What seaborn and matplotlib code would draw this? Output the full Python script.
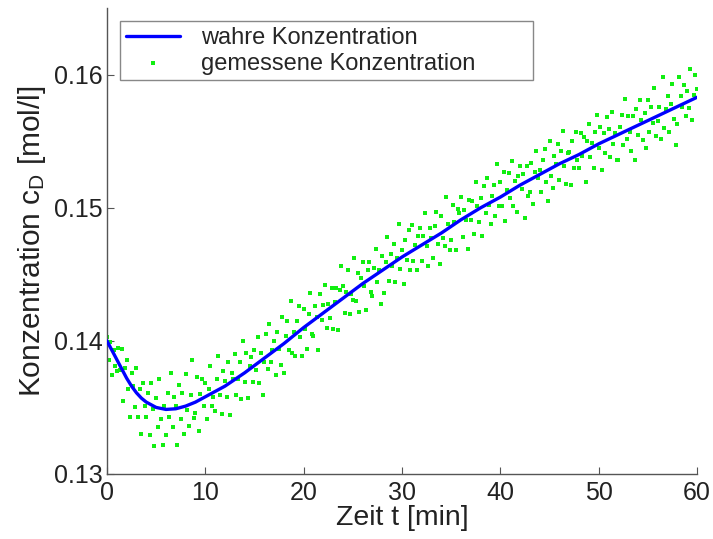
import numpy as np
import pandas as pd
import matplotlib
matplotlib.use("Agg")
import matplotlib.pyplot as plt
import seaborn as sns

# ---- data -------------------------------------------------------------
# true concentration
true_t = [0, 0.5, 1, 1.5, 2, 2.5, 3, 3.5, 4, 5, 6, 7, 8, 9, 10, 12, 14, 16, 18,
          20, 22, 24, 26, 28, 30, 32, 34, 36, 38, 40, 42, 44, 46, 48, 50, 52,
          54, 56, 58, 60]
true_c = [0.1400, 0.1393, 0.1386, 0.1379, 0.1372, 0.1366, 0.1361, 0.1357,
          0.1354, 0.1350, 0.13485, 0.1349, 0.1351, 0.1354, 0.1358, 0.1366,
          0.1376, 0.1387, 0.1398, 0.1410, 0.1421, 0.1432, 0.1443, 0.1453,
          0.1463, 0.1472, 0.1481, 0.1491, 0.1500, 0.1508, 0.1517, 0.1525,
          0.1533, 0.1540, 0.1548, 0.1555, 0.1562, 0.1569, 0.1576, 0.1583]

# measured concentration, one sample every 10 s (6 per minute)
sample_step_min = 1 / 6
meas_c = [
    0.1403, 0.1386, 0.1399, 0.1374, 0.1393, 0.1381,
    0.1377, 0.1395, 0.1378, 0.1394, 0.1355, 0.1380,
    0.1386, 0.1364, 0.1343, 0.1376, 0.1366, 0.1350,
    0.1380, 0.1343, 0.1364, 0.1330, 0.1368, 0.1351,
    0.1343, 0.1361, 0.1329, 0.1368, 0.1349, 0.1321,
    0.1357, 0.1335, 0.1371, 0.1341, 0.1322, 0.1351,
    0.1329, 0.1361, 0.1343, 0.1376, 0.1335, 0.1358,
    0.1351, 0.1322, 0.1367, 0.1341, 0.1361, 0.1330,
    0.1375, 0.1348, 0.1336, 0.1359, 0.1386, 0.1342,
    0.1346, 0.1373, 0.1332, 0.1360, 0.1371, 0.1351,
    0.1368, 0.1341, 0.1364, 0.1381, 0.1351, 0.1358,
    0.1347, 0.1371, 0.1389, 0.1359, 0.1345, 0.1377,
    0.1370, 0.1358, 0.1384, 0.1344, 0.1376, 0.1371,
    0.1390, 0.1359, 0.1371, 0.1384, 0.1356, 0.1400,
    0.1369, 0.1391, 0.1357, 0.1381, 0.1388, 0.1369,
    0.1393, 0.1378, 0.1403, 0.1368, 0.1391, 0.1359,
    0.1384, 0.1405, 0.1379, 0.1413, 0.1384, 0.1393,
    0.1400, 0.1374, 0.1407, 0.1394, 0.1382, 0.1418,
    0.1376, 0.1404, 0.1415, 0.1393, 0.1430, 0.1391,
    0.1407, 0.1389, 0.1415, 0.1426, 0.1403, 0.1389,
    0.1424, 0.1409, 0.1394, 0.1420, 0.1436, 0.1405,
    0.1404, 0.1426, 0.1418, 0.1393, 0.1435, 0.1416,
    0.1427, 0.1442, 0.1410, 0.1428, 0.1417, 0.1440,
    0.1409, 0.1429, 0.1440, 0.1408, 0.1438, 0.1456,
    0.1441, 0.1421, 0.1437, 0.1453, 0.1420, 0.1435,
    0.1431, 0.1462, 0.1430, 0.1451, 0.1422, 0.1447,
    0.1459, 0.1441, 0.1423, 0.1453, 0.1459, 0.1437,
    0.1434, 0.1455, 0.1469, 0.1444, 0.1453, 0.1428,
    0.1464, 0.1436, 0.1459, 0.1478, 0.1445, 0.1465,
    0.1456, 0.1473, 0.1444, 0.1462, 0.1488, 0.1454,
    0.1468, 0.1443, 0.1476, 0.1461, 0.1483, 0.1453,
    0.1487, 0.1460, 0.1472, 0.1453, 0.1479, 0.1485,
    0.1460, 0.1479, 0.1496, 0.1471, 0.1456, 0.1485,
    0.1477, 0.1462, 0.1486, 0.1497, 0.1473, 0.1458,
    0.1494, 0.1477, 0.1471, 0.1508, 0.1488, 0.1468,
    0.1476, 0.1502, 0.1489, 0.1468, 0.1499, 0.1496,
    0.1508, 0.1478, 0.1498, 0.1491, 0.1469, 0.1506,
    0.1491, 0.1505, 0.1480, 0.1519, 0.1501, 0.1489,
    0.1507, 0.1479, 0.1516, 0.1496, 0.1522, 0.1502,
    0.1488, 0.1509, 0.1517, 0.1494, 0.1533, 0.1501,
    0.1519, 0.1501, 0.1527, 0.1490, 0.1513, 0.1526,
    0.1507, 0.1535, 0.1501, 0.1520, 0.1497, 0.1524,
    0.1531, 0.1514, 0.1525, 0.1492, 0.1531, 0.1509,
    0.1512, 0.1534, 0.1503, 0.1527, 0.1543, 0.1522,
    0.1528, 0.1512, 0.1536, 0.1544, 0.1519, 0.1505,
    0.1550, 0.1524, 0.1515, 0.1539, 0.1533, 0.1548,
    0.1521, 0.1543, 0.1558, 0.1531, 0.1518, 0.1541,
    0.1542, 0.1517, 0.1550, 0.1530, 0.1557, 0.1536,
    0.1530, 0.1556, 0.1539, 0.1553, 0.1519, 0.1550,
    0.1563, 0.1538, 0.1549, 0.1530, 0.1557, 0.1570,
    0.1545, 0.1561, 0.1528, 0.1556, 0.1541, 0.1568,
    0.1559, 0.1538, 0.1572, 0.1548, 0.1556, 0.1536,
    0.1536, 0.1561, 0.1570, 0.1547, 0.1582, 0.1552,
    0.1569, 0.1557, 0.1543, 0.1569, 0.1536, 0.1574,
    0.1555, 0.1581, 0.1566, 0.1551, 0.1571, 0.1545,
    0.1581, 0.1557, 0.1576, 0.1564, 0.1590, 0.1554,
    0.1565, 0.1576, 0.1552, 0.1598, 0.1560, 0.1574,
    0.1584, 0.1557, 0.1578, 0.1593, 0.1567, 0.1547,
    0.1563, 0.1598, 0.1584, 0.1576, 0.1592, 0.1569,
    0.1588, 0.1575, 0.1604, 0.1566, 0.1585, 0.1600,
    0.1589,
]
meas_t = np.arange(len(meas_c)) * sample_step_min

x_ticks = [0, 10, 20, 30, 40, 50, 60]
y_ticks = [0.13, 0.14, 0.15, 0.16]
y_tick_labels = ["0.13", "0.14", "0.15", "0.16"]

# ---- plot -------------------------------------------------------------
sns.set_theme(style="white")
plt.rcParams["font.family"] = ["Liberation Sans", "DejaVu Sans"]
plt.rcParams["mathtext.default"] = "regular"

fig = plt.figure(figsize=(7.13, 5.39), dpi=100)
ax = fig.add_axes([0.150, 0.1206, 0.8276, 0.8644])

df_true = pd.DataFrame({"t": true_t, "c": true_c})
df_meas = pd.DataFrame({"t": meas_t, "c": meas_c})

sns.scatterplot(data=df_meas, x="t", y="c", ax=ax, color="#11ee11",
                marker="s", s=5.5, linewidth=0, label="gemessene Konzentration",
                zorder=2)
sns.lineplot(data=df_true, x="t", y="c", ax=ax, color="#0000ff",
             linewidth=2.4, label="wahre Konzentration", zorder=3,
             estimator=None)

ax.set_xlim(0, 60)
ax.set_ylim(0.13, 0.165)
ax.set_xticks(x_ticks)
ax.set_xticklabels([str(v) for v in x_ticks])
ax.set_yticks(y_ticks)
ax.set_yticklabels(y_tick_labels)

for s in ["top", "right"]:
    ax.spines[s].set_visible(False)
for s in ["left", "bottom"]:
    ax.spines[s].set_color("#555555")
    ax.spines[s].set_linewidth(1.0)

ax.tick_params(axis="both", direction="in", length=5, width=0.8,
               colors="#555555", labelcolor="#222222", labelsize=18)
ax.tick_params(axis="x", bottom=True, pad=5)
ax.tick_params(axis="y", left=True, pad=3)

ax.set_xlabel("Zeit t [min]", fontsize=20.5, color="#222222", labelpad=0)
ax.set_ylabel(r"Konzentration c$_{D}$ [mol/l]", fontsize=21.5,
              color="#222222", labelpad=4)

handles, labels = ax.get_legend_handles_labels()
order = [labels.index("wahre Konzentration"),
         labels.index("gemessene Konzentration")]
leg = ax.legend([handles[i] for i in order], [labels[i] for i in order],
                loc="upper left", bbox_to_anchor=(0.022, 0.972, 0.70, 0.0),
                mode="expand",
                fontsize=17, frameon=True, fancybox=False,
                edgecolor="#888888", framealpha=1, borderpad=0.25,
                handlelength=2.3, handletextpad=0.9, labelspacing=0.15,
                markerscale=1.0, borderaxespad=0)
leg.get_frame().set_linewidth(1.0)

fig.savefig("out.png", dpi=100)
